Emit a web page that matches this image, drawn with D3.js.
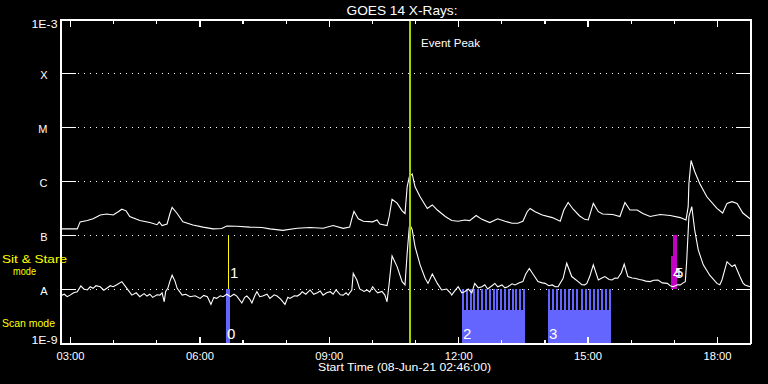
<!DOCTYPE html>
<html><head><meta charset="utf-8">
<script src="https://cdn.jsdelivr.net/npm/d3@7"></script>
<style>
html,body{margin:0;padding:0;background:#000;}
svg{display:block;}
text{font-family:"Liberation Sans",Arial,sans-serif;fill:#fff;}
</style></head>
<body>
<svg id="chart" width="768" height="384"></svg>
<script>
// ---------------- DATA ----------------
const startTime = "02:46:00";          // 08-Jun-21
const durationHours = 16;
const title = "GOES 14 X-Rays:";
const xTitle = "Start Time (08-Jun-21 02:46:00)";

// Y axis (log flux, W/m^2)
const yTickValues = [1e-9, 1e-8, 1e-7, 1e-6, 1e-5, 1e-4, 1e-3];
const yTickLabels = ["1E-9", "A", "B", "C", "M", "X", "1E-3"];
const gridValues = [1e-8, 1e-7, 1e-6, 1e-5, 1e-4];

// X axis ticks (UT hours)
const xMajorHours = [3, 6, 9, 12, 15, 18];
const xMajorLabels = ["03:00", "06:00", "09:00", "12:00", "15:00", "18:00"];
const xMinorHours = [3,4,5,6,7,8,9,10,11,12,13,14,15,16,17,18];

// Long channel (1-8 A): minutes after start, flux in units of 1e-7 W/m^2
const longUnit = 1e-7;
const longMinutes = [
  0,10,24,28,38,46,56,65,74,81,
  86,92,97,111,125,135,138,142,149,153,
  156,163,171,185,199,213,225,232,246,264,
  281,292,310,330,348,366,380,394,403,406,
  409,415,422,435,441,445,455,458,462,469,
  476,480,483,486,490,494,501,511,518,525,
  536,545,554,563,570,579,587,598,609,619,
  629,637,644,650,654,661,671,685,696,701,
  707,714,723,730,735,742,749,755,769,779,
  786,793,803,811,821,835,849,863,871,874,
  875,878,883,890,900,914,922,928,935,942,
  950,960];
const longFlux = [
  1.3,1.3,1.3,1.75,1.85,2.0,2.35,2.45,2.35,2.7,
  3.0,2.8,2.2,1.85,1.7,1.55,1.75,1.5,1.6,2.5,
  3.25,2.5,1.75,1.53,1.4,1.3,1.32,1.47,1.45,1.4,
  1.38,1.3,1.22,1.33,1.38,1.33,1.5,1.33,1.4,2.0,
  2.75,2.0,1.8,1.75,1.9,1.6,1.5,2.2,4.6,3.9,
  2.8,2.5,7.8,12,13.5,7.8,5.1,3.1,3.6,2.9,
  2.2,1.85,1.8,1.9,1.85,2.3,1.95,1.7,2.0,1.8,
  1.65,1.65,1.8,2.7,3.1,2.7,2.35,2.1,1.8,2.9,
  4.0,3.0,2.25,1.95,1.9,3.85,2.7,2.45,2.4,2.2,
  4.0,2.9,2.9,2.5,2.2,2.4,2.3,2.1,1.9,3.35,
  9,24,15,9,5.1,3.1,2.55,3.85,4.15,3.85,
  2.55,2.0];

// Short channel (0.5-4 A): minutes after start, flux in units of 1e-8 W/m^2
const shortUnit = 1e-8;
const shortMinutes = [
  0,6,10,14,19,24,29,33,38,42,
  46,50,56,61,65,70,74,79,86,93,
  100,106,111,117,121,125,129,135,139,142,
  145,147,150,153,156,160,163,170,175,181,
  188,195,200,205,210,214,218,223,227,232,
  237,242,246,253,257,260,264,267,271,274,
  278,282,288,292,298,302,307,313,317,320,
  326,330,334,337,342,348,353,358,362,366,
  371,376,380,384,390,394,398,401,403,406,
  408,413,417,423,427,431,435,440,442,448,
  452,455,458,462,469,476,480,483,486,487,
  490,494,501,508,512,518,525,531,538,543,
  545,550,554,559,563,568,573,577,582,587,
  591,595,601,605,609,615,619,623,629,633,
  639,644,648,653,658,665,671,675,680,685,
  689,693,700,705,712,721,726,730,733,737,
  742,749,754,758,764,768,772,776,781,785,
  790,796,800,806,810,815,821,826,832,838,
  845,849,853,859,863,867,870,872,875,879,
  883,888,895,904,914,918,921,928,935,939,
  946,950,953,960];
const shortFlux = [
  0.74,0.8,0.72,0.77,0.85,0.89,1.14,1.0,0.96,1.1,
  1.03,1.15,1.1,0.95,1.03,1.15,1.1,1.2,1.37,1.03,
  0.77,0.85,0.72,0.82,0.74,0.8,0.70,0.78,0.77,0.85,
  0.58,0.9,1.03,1.4,1.8,1.4,1.03,0.77,0.8,0.72,
  0.75,0.67,0.76,0.72,0.52,0.7,0.67,0.75,0.72,0.8,
  0.72,0.8,0.74,0.55,0.7,0.74,0.65,0.55,0.75,0.89,
  0.72,0.74,0.8,0.67,0.78,0.74,0.65,0.52,0.7,0.67,
  0.75,0.74,0.8,0.89,0.8,0.96,0.8,0.85,0.92,0.77,
  0.85,0.89,0.8,0.96,0.78,0.77,0.85,0.77,0.85,0.96,
  1.95,1.47,1.0,0.9,0.96,0.88,1.1,0.9,0.85,0.9,
  0.77,0.58,1.27,4.1,2.6,1.37,1.19,4.6,14.2,15.3,
  12.5,6.1,2.8,1.58,1.27,1.9,1.27,0.96,1.0,0.85,
  0.77,0.95,1.1,0.85,0.89,1.0,0.85,1.27,1.05,1.1,
  1.2,1.0,1.15,1.27,1.1,1.19,1.05,1.1,1.25,1.19,
  1.3,1.37,1.9,2.4,1.9,1.37,1.3,1.27,1.15,1.19,
  1.1,1.1,1.58,3.0,1.7,1.37,1.2,1.19,1.27,1.7,
  2.8,1.47,1.6,1.7,1.5,1.47,1.6,1.58,2.0,2.9,
  1.7,1.6,1.58,1.5,1.47,1.4,1.37,1.45,1.47,1.3,
  1.27,1.15,1.1,1.2,1.19,1.3,1.37,3.45,22,33.5,
  12.5,5.3,2.8,1.8,1.27,1.2,1.47,3.2,2.6,2.8,
  1.7,1.3,1.19,1.1];

// Observation events
const eventIds    = ["0", "1", "2", "3", "4", "5"];
const eventMode   = ["scan", "stare", "scan", "scan", "other", "other"];
const eventStart  = ["06:36:58", "06:39:44", "12:05:18", "14:04:58", "16:56:36", "16:59:24"];
const eventEnd    = ["06:42:30", "06:39:44", "13:32:57", "15:32:36", "17:05:00", "17:05:00"];
const eventLow    = [1e-9, 1e-8, 1e-9, 1e-9, 1e-8, 1e-8];
const eventHigh   = [1e-8, 1e-7, 1e-8, 1e-8, 4.1e-8, 1e-7];
const eventSteps  = [1, 1, 17, 16, 1, 1];
const scanBaseFlux = 4.1e-9;

const eventPeakTime = "10:52:58";
const eventPeakLabel = "Event Peak";
const modeLabels = ["Sit & Stare", "mode", "Scan mode"];

// ---------------- DRAW ----------------
const svg = d3.select("#chart");
svg.append("rect").attr("width", 768).attr("height", 384).attr("fill", "#000");

function toDate(s) {
  const [h, m, sec] = s.split(":").map(Number);
  return new Date(Date.UTC(2021, 5, 8, h, m, sec || 0));
}
const t0 = toDate(startTime);
const t1 = new Date(+t0 + durationHours * 3600e3);
const minDate = m => new Date(+t0 + m * 60e3);
const hourDate = h => new Date(Date.UTC(2021, 5, 8, h, 0, 0));

const L = 60, R = 750, T = 19, B = 343;
const x = d3.scaleUtc().domain([t0, t1]).range([L, R]);
const y = d3.scaleLog().domain([1e-9, 1e-3]).range([B, T]);

const COL_SCAN = "#6464ff", COL_STARE = "#ffff00", COL_OTHER = "#c400c4", COL_PEAK = "#a4d400";

// gridlines (dotted)
svg.append("g").selectAll("line").data(gridValues).join("line")
  .attr("x1", 78).attr("x2", 737)
  .attr("y1", d => Math.round(y(d)) + 0.5).attr("y2", d => Math.round(y(d)) + 0.5)
  .attr("stroke", "#fff").attr("stroke-width", 1).attr("stroke-dasharray", "1 5")
  .attr("shape-rendering", "crispEdges");

// events
const events = eventIds.map((id, i) => ({
  id, mode: eventMode[i], s: toDate(eventStart[i]), e: toDate(eventEnd[i]),
  lo: eventLow[i], hi: eventHigh[i], steps: eventSteps[i]
}));
const gEv = svg.append("g").attr("shape-rendering", "crispEdges");
events.forEach(ev => {
  const xs = Math.round(x(ev.s)), xe = Math.round(x(ev.e));
  if (ev.mode === "stare") {
    gEv.append("line").attr("x1", xs + 0.5).attr("x2", xs + 0.5)
      .attr("y1", y(ev.hi)).attr("y2", y(ev.lo))
      .attr("stroke", COL_STARE).attr("stroke-width", 1);
  } else if (ev.mode === "scan" && ev.steps > 1) {
    gEv.append("rect").attr("x", xs).attr("width", xe - xs)
      .attr("y", y(scanBaseFlux)).attr("height", y(ev.lo) - y(scanBaseFlux))
      .attr("fill", COL_SCAN);
    const step = (xe - xs - 2) / (ev.steps - 1);
    d3.range(ev.steps).forEach(k => {
      gEv.append("rect").attr("x", Math.round(xs + 1 + k * step) - 1).attr("width", 2)
        .attr("y", y(ev.hi)).attr("height", y(scanBaseFlux) - y(ev.hi) + 1)
        .attr("fill", COL_SCAN);
    });
  } else {
    gEv.append("rect").attr("x", xs).attr("width", Math.max(xe - xs, 2))
      .attr("y", y(ev.hi)).attr("height", y(ev.lo) - y(ev.hi))
      .attr("fill", ev.mode === "scan" ? COL_SCAN : COL_OTHER);
  }
});

// curves
const line = d3.line().x(d => x(d[0])).y(d => y(d[1]));
const longData = longMinutes.map((m, i) => [minDate(m), longFlux[i] * longUnit]);
const shortData = shortMinutes.map((m, i) => [minDate(m), shortFlux[i] * shortUnit]);
[longData, shortData].forEach(dd => {
  svg.append("path").datum(dd).attr("d", line)
    .attr("fill", "none").attr("stroke", "#fff").attr("stroke-width", 1.1)
    .attr("stroke-linejoin", "miter");
});

// event peak line
const xp = Math.round(x(toDate(eventPeakTime)));
svg.append("line").attr("x1", xp).attr("x2", xp).attr("y1", T).attr("y2", B)
  .attr("stroke", COL_PEAK).attr("stroke-width", 2).attr("shape-rendering", "crispEdges");
svg.append("text").attr("x", xp + 11).attr("y", 47).attr("font-size", 11)
  .attr("textLength", 59).attr("lengthAdjust", "spacingAndGlyphs").text(eventPeakLabel);

// event labels
events.forEach(ev => {
  const xs = Math.round(x(ev.s));
  const isScan = ev.mode === "scan";
  svg.append("text").attr("x", xs + (isScan ? 1 : 2))
    .attr("y", isScan ? y(1e-9) - 4 : y(1e-8) - 11)
    .attr("font-size", 15).text(ev.id);
});

// axes
const gAx = svg.append("g").attr("shape-rendering", "crispEdges");
// bottom minor / major
gAx.append("g").attr("transform", `translate(0,${B + 0.5})`)
  .call(d3.axisBottom(x).tickValues(xMinorHours.map(hourDate)).tickSize(-4).tickFormat(""));
const xb = gAx.append("g").attr("transform", `translate(0,${B + 0.5})`)
  .call(d3.axisBottom(x).tickValues(xMajorHours.map(hourDate)).tickSize(-7)
    .tickFormat((d, i) => xMajorLabels[i]));
xb.selectAll("text").attr("y", 16).attr("dy", 0).attr("font-size", 10)
  .attr("textLength", 28).attr("lengthAdjust", "spacingAndGlyphs");
// top
gAx.append("g").attr("transform", `translate(0,${T + 0.5})`)
  .call(d3.axisTop(x).tickValues(xMinorHours.map(hourDate)).tickSize(-4).tickFormat(""));
gAx.append("g").attr("transform", `translate(0,${T + 0.5})`)
  .call(d3.axisTop(x).tickValues(xMajorHours.map(hourDate)).tickSize(-7).tickFormat(""));
// left / right
const yl = gAx.append("g").attr("transform", `translate(${L + 0.5},0)`)
  .call(d3.axisLeft(y).tickValues(yTickValues).tickSize(-15).tickPadding(3)
    .tickFormat((d, i) => yTickLabels[i]));
yl.selectAll("text").attr("font-size", 11).attr("dy", 0)
  .attr("x", (d, i) => yTickLabels[i].length > 1 ? -3 : -13)
  .attr("y", (d, i) => i === 0 ? 0 : (i === yTickValues.length - 1 ? 8 : 5))
  .attr("textLength", (d, i) => yTickLabels[i].length > 1 ? 26 : null)
  .attr("lengthAdjust", "spacingAndGlyphs");
gAx.append("g").attr("transform", `translate(${R + 0.5},0)`)
  .call(d3.axisRight(y).tickValues(yTickValues).tickSize(-15).tickFormat(""));
gAx.selectAll(".domain").attr("stroke", "#fff").attr("stroke-width", 1.5);
gAx.selectAll(".tick line").attr("stroke", "#fff").attr("stroke-width", 1.2);
gAx.selectAll("text").attr("fill", "#fff").attr("font-family", '"Liberation Sans",Arial,sans-serif');
// box edges (domain paths have outer ticks; draw clean frame)
svg.append("rect").attr("x", L + 0.5).attr("y", T + 0.5).attr("width", R - L).attr("height", B - T)
  .attr("fill", "none").attr("stroke", "#fff").attr("stroke-width", 1.5).attr("shape-rendering", "crispEdges");

// titles
svg.append("text").attr("x", 402).attr("y", 15).attr("text-anchor", "middle").attr("font-size", 13)
  .attr("textLength", 111).attr("lengthAdjust", "spacingAndGlyphs").text(title);
svg.append("text").attr("x", 404.5).attr("y", 371).attr("text-anchor", "middle").attr("font-size", 11)
  .attr("textLength", 173).attr("lengthAdjust", "spacingAndGlyphs").text(xTitle);

// mode labels
svg.append("text").attr("x", 2).attr("y", 263).attr("font-size", 11).attr("fill", COL_STARE)
  .style("fill", COL_STARE).attr("textLength", 65).attr("lengthAdjust", "spacingAndGlyphs").text(modeLabels[0]);
svg.append("text").attr("x", 13).attr("y", 275).attr("font-size", 11)
  .style("fill", COL_STARE).attr("textLength", 23).attr("lengthAdjust", "spacingAndGlyphs").text(modeLabels[1]);
svg.append("text").attr("x", 2).attr("y", 327).attr("font-size", 11)
  .style("fill", COL_STARE).attr("textLength", 53).attr("lengthAdjust", "spacingAndGlyphs").text(modeLabels[2]);
</script>
</body></html>
